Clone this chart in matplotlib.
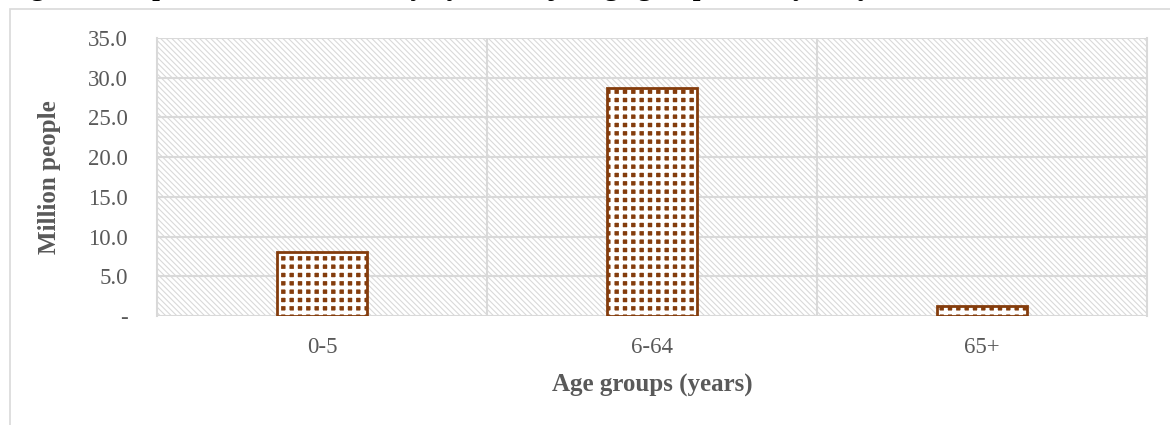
import matplotlib
matplotlib.use("Agg")
import matplotlib.pyplot as plt
from matplotlib.patches import Rectangle

categories = ["0-5", "6-64", "65+"]
values = [8.0, 28.7, 1.2]
yticks = [0, 5, 10, 15, 20, 25, 30, 35]
ytick_labels = ["-", "5.0", "10.0", "15.0", "20.0", "25.0", "30.0", "35.0"]
title = "Figure 4: Population of the country by the major age groups and by the year, 2020"
xlabel = "Age groups (years)"
ylabel = "Million people"

plt.rcParams['font.family'] = ['Liberation Serif', 'DejaVu Serif']
plt.rcParams['hatch.linewidth'] = 0.8

W, H = 1170, 425
fig = plt.figure(figsize=(W / 100, H / 100), dpi=100)

# outer chart border
fig.patches.append(Rectangle((10 / W, -0.1), 1.2, 1 - 9 / H + 0.1, transform=fig.transFigure,
                             fill=False, edgecolor="#d9d9d9", linewidth=1.2, zorder=0))

fig.text(0.005, 1 + 5 / H, title, fontsize=20, fontweight="bold", color="black",
         ha="left", va="baseline")

ax = fig.add_axes([157 / W, 1 - 316 / H, (1147 - 157) / W, (316 - 38) / H])
ax.set_xlim(-0.5, len(categories) - 0.5)
ax.set_ylim(0, 35)

# background hatch
ax.add_patch(Rectangle((0, 0), 1, 1, transform=ax.transAxes, facecolor="white",
                       edgecolor="#d9d9d9", hatch="\\\\\\\\\\\\", linewidth=0, zorder=0))

# grid
for y in yticks:
    ax.axhline(y, color="#d9d9d9", linewidth=1.5, zorder=1)
for xb in [0.5, 1.5]:
    ax.axvline(xb, color="#d9d9d9", linewidth=1.5, zorder=1)

x = range(len(categories))
# brown squares texture: brown fill with white grid hatch
plt.rcParams['hatch.linewidth'] = 2.8
ax.bar(x, values, width=0.275, facecolor="#843c0c", edgecolor="white",
       hatch="++", linewidth=0, zorder=3)
ax.bar(x, values, width=0.275, fill=False, edgecolor="#843c0c", linewidth=2, zorder=4)

ax.set_yticks(yticks)
ax.set_yticklabels(ytick_labels)
ax.set_xticks(list(x))
ax.set_xticklabels(categories)
ax.tick_params(length=0, labelsize=16.5, colors="#595959")
ax.tick_params(axis="x", pad=15)
ax.tick_params(axis="y", pad=21)
for s in ax.spines.values():
    s.set_visible(False)
for side in ["left", "right"]:
    ax.spines[side].set_visible(True)
    ax.spines[side].set_color("#d9d9d9")
    ax.spines[side].set_linewidth(1.5)

fig.text(652 / W, 1 - 385 / H, xlabel, fontsize=18, fontweight="bold", color="#595959",
         ha="center", va="center")
fig.text(50 / W, 1 - 177 / H, ylabel, fontsize=18, fontweight="bold", color="#595959",
         ha="center", va="center", rotation=90)

fig.savefig("out.png", dpi=100)
